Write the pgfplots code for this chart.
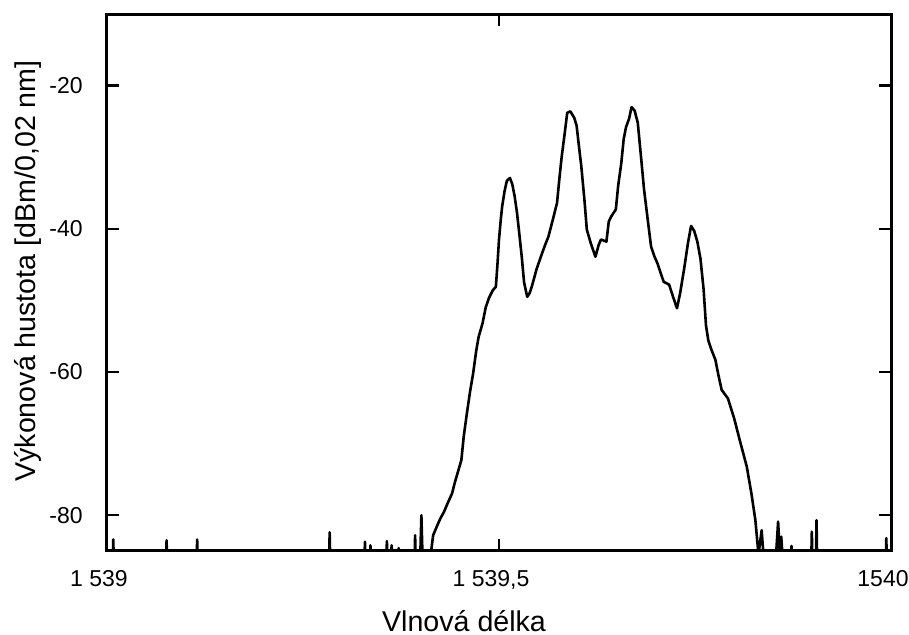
\documentclass[border=0pt]{standalone}
\usepackage{pgfplots}
\pgfplotsset{compat=1.18}
\usetikzlibrary{calc}
\usepackage{fontspec}
\setmainfont{Liberation Sans}
\begin{document}
\begin{tikzpicture}
\begin{axis}[
  scale only axis,
  width=392pt, height=268.5pt,
  xmin=1539, xmax=1540,
  ymin=-85, ymax=-10,
  xtick={1539,1539.5,1540},
  xticklabels={1 539, {1 539,5}, 1540},
  ytick={-80,-60,-40,-20},
  yticklabels={-80,-60,-40,-20},
  axis line style={line width=1.5pt},
  major tick length=6pt,
  every tick/.style={black, line width=1.3pt},
  tick label style={font=\fontsize{11.5}{13}\selectfont, inner sep=0pt},
  label style={font=\fontsize{14.3}{16}\selectfont, inner sep=0pt},
  xticklabel style={anchor=base, yshift=-18pt, xshift=-4pt},
  yticklabel style={anchor=east, xshift=-12pt},
  xlabel={Vlnová délka},
  ylabel={Výkonová hustota [dBm/0,02 nm]},
  xlabel style={at={(axis description cs:0.4554,-0.1508)}, anchor=base},
  ylabel style={at={(axis description cs:-0.0918,0.5214)}, anchor=base},
]
\addplot[black, line width=1.3pt, line join=round] coordinates {
(1539.000,-88)
(1539.007,-88) (1539.008,-83.4) (1539.009,-88)
(1539.075,-88) (1539.076,-83.5) (1539.077,-88)
(1539.114,-88) (1539.115,-83.4) (1539.116,-88)
(1539.283,-88) (1539.284,-82.4) (1539.285,-88)
(1539.328,-88) (1539.329,-83.7) (1539.330,-88)
(1539.335,-88) (1539.336,-84.2) (1539.337,-88)
(1539.356,-88) (1539.357,-83.6) (1539.358,-88)
(1539.362,-88) (1539.363,-84.2) (1539.364,-88)
(1539.370,-88) (1539.372,-84.6) (1539.374,-88)
(1539.392,-88) (1539.393,-82.8) (1539.394,-88)
(1539.399,-88) (1539.401,-80.0) (1539.403,-88)
(1539.410,-88)
(1539.416,-82.8) (1539.421,-81.5) (1539.425,-80.5) (1539.430,-79.5)
(1539.435,-78.2) (1539.440,-77.0) (1539.444,-75.3) (1539.448,-73.8)
(1539.452,-72.3) (1539.455,-69.0) (1539.459,-65.8) (1539.463,-62.8)
(1539.467,-60.2) (1539.471,-57.0) (1539.474,-55.1)
(1539.479,-53.2) (1539.483,-51.0) (1539.487,-49.7) (1539.492,-48.6)
(1539.496,-48.1) (1539.498,-45.0) (1539.500,-41.5) (1539.502,-39.0)
(1539.504,-36.9) (1539.507,-34.8) (1539.510,-33.3) (1539.514,-32.9)
(1539.517,-33.8) (1539.520,-35.5)
(1539.523,-37.8) (1539.526,-40.8) (1539.529,-43.9) (1539.532,-47.5)
(1539.536,-49.5) (1539.539,-49.0) (1539.542,-48.0) (1539.548,-45.6)
(1539.555,-43.4) (1539.559,-42.2) (1539.563,-41.1) (1539.568,-39.0)
(1539.574,-36.4) (1539.577,-33.0) (1539.580,-29.9) (1539.584,-26.5)
(1539.587,-23.8) (1539.591,-23.6) (1539.596,-24.5) (1539.599,-25.6)
(1539.602,-28.5) (1539.605,-31.3) (1539.609,-36.0)
(1539.612,-40.1) (1539.617,-42.0) (1539.623,-43.9) (1539.627,-42.3)
(1539.630,-41.5) (1539.635,-41.7) (1539.637,-41.8) (1539.640,-39.0)
(1539.643,-38.3) (1539.649,-37.3) (1539.652,-34.0) (1539.656,-30.8)
(1539.659,-27.5) (1539.662,-25.8) (1539.666,-24.6) (1539.669,-23.0)
(1539.673,-23.5) (1539.677,-25.2) (1539.681,-29.8) (1539.685,-34.5)
(1539.690,-39.0) (1539.694,-42.5) (1539.698,-43.8)
(1539.702,-44.8) (1539.710,-47.4) (1539.717,-47.8) (1539.722,-49.5)
(1539.727,-51.1) (1539.731,-49.0) (1539.736,-45.7) (1539.741,-42.0)
(1539.745,-39.6) (1539.749,-40.3) (1539.753,-41.8) (1539.757,-44.2)
(1539.761,-48.5) (1539.764,-53.5) (1539.767,-55.6) (1539.771,-56.9)
(1539.776,-58.3) (1539.780,-60.5)
(1539.784,-62.5) (1539.792,-63.7) (1539.800,-66.5) (1539.807,-69.5)
(1539.816,-73.2) (1539.822,-77.0) (1539.827,-80.7) (1539.831,-85.5)
(1539.835,-82.1) (1539.839,-88) (1539.852,-88) (1539.856,-80.9)
(1539.858,-85) (1539.860,-83.0) (1539.863,-88)
(1539.872,-88) (1539.873,-84.3) (1539.874,-88)
(1539.898,-88) (1539.899,-82.3) (1539.900,-88)
(1539.904,-88) (1539.905,-80.7) (1539.906,-88)
(1539.993,-88) (1539.994,-83.2) (1539.995,-88)
(1540.000,-88)
};
\end{axis}
\pgfresetboundingbox
\useasboundingbox ($(current axis.south west)+(-53.5pt,-42pt)$) rectangle ++(454.5pt,317.5pt);
\end{tikzpicture}
\end{document}
